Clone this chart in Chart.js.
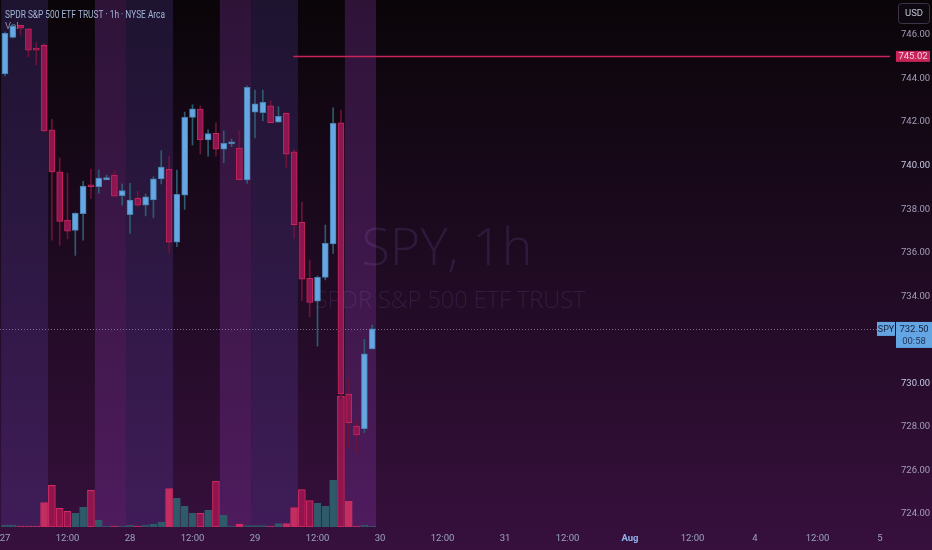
<!DOCTYPE html>
<html><head><meta charset="utf-8">
<script src="https://cdn.jsdelivr.net/npm/chart.js@4.4.1/dist/chart.umd.min.js"></script>
<style>html,body{margin:0;padding:0;background:#1a0a1e;overflow:hidden}canvas{display:block}</style>
</head><body>
<canvas id="c" width="932" height="550"></canvas>
<script>
// ---- categories: hourly candles (extended session 04:00-19:00) ----
const candleTimes = [
 '27 04:00','27 05:00','27 06:00','27 07:00','27 08:00','27 09:00','27 10:00','27 11:00',
 '27 12:00','27 13:00','27 14:00','27 15:00','27 16:00','27 17:00','27 18:00','27 19:00',
 '28 04:00','28 05:00','28 06:00','28 07:00','28 08:00','28 09:00','28 10:00','28 11:00',
 '28 12:00','28 13:00','28 14:00','28 15:00','28 16:00','28 17:00','28 18:00','28 19:00',
 '29 04:00','29 05:00','29 06:00','29 07:00','29 08:00','29 09:00','29 10:00','29 11:00',
 '29 12:00','29 13:00','29 14:00','29 15:00','29 16:00','29 17:00','29 18:00','29 19:00'
];
// ---- series ----
const openP  = [744.21,745.89,746.45,746.28,745.40,745.53,741.64,739.72,737.50,737.03,737.79,739.08,739.03,739.35,739.57,738.62,
                737.75,738.50,738.18,738.43,739.39,739.83,736.48,738.64,742.22,742.60,741.18,741.48,740.76,741.00,740.81,739.35,
                742.46,742.43,742.75,742.00,742.40,740.64,737.40,734.82,733.77,734.87,736.40,741.97,729.51,728.04,727.92,731.58];
const highP  = [746.14,746.50,746.46,746.28,745.65,745.62,742.13,740.36,739.65,737.84,739.28,739.84,739.80,739.57,739.75,739.16,
                739.19,738.83,738.70,739.49,740.69,740.44,739.80,742.46,742.80,742.74,741.64,741.97,741.60,741.22,741.60,743.66,
                743.47,743.47,742.98,742.71,742.43,740.75,738.33,735.66,734.93,737.27,742.66,742.55,730.23,728.31,732.02,732.67];
const lowP   = [744.12,745.86,746.00,745.00,744.62,741.55,736.58,736.34,736.64,735.88,736.58,738.50,738.73,739.35,738.60,738.19,
                736.89,738.11,737.69,737.61,739.16,736.00,736.28,737.99,740.95,740.53,740.44,740.44,740.13,740.87,739.35,739.19,
                741.27,742.06,741.97,742.00,739.92,736.66,733.80,733.06,731.71,734.75,735.97,729.30,727.01,726.78,727.73,731.58];
const closeP = [746.08,746.41,746.32,745.31,745.31,741.60,739.71,737.44,736.99,737.81,739.06,739.03,739.43,739.45,738.60,738.85,
                738.42,738.18,738.57,739.40,739.94,736.48,738.68,742.22,742.61,741.18,741.47,740.76,741.03,741.02,739.35,743.60,
                742.84,742.91,741.97,742.27,740.53,737.29,734.78,733.72,734.87,736.43,741.94,729.51,728.19,727.63,731.35,732.50];
const volumeM = [0.2,0.2,0.1,0.1,0.1,2.44,4.17,1.87,1.57,1.37,1.97,3.67,0.67,0.1,0.1,0.1,
                 0.17,0.1,0.2,0.3,0.47,3.83,2.87,2.07,1.37,1.37,1.67,4.6,1.17,0.1,0.3,0.15,
                 0.15,0.15,0.1,0.33,0.33,1.93,3.73,2.63,2.37,2.07,4.67,13.1,2.57,0.1,0.2,0.1];
// ---- axes ----
const priceTicks = [724,726,728,730,732,734,736,738,740,742,744,746];
const xTickIndex = [0,8,16,24,32,40,48,56,64,72,80,88,96,104,112];
const xTickLabels = ['27','12:00','28','12:00','29','12:00','30','12:00','31','12:00','Aug','12:00','4','12:00','5'];
const priceRange = [723.40, 747.61];
const indexRange = [-0.64, 113.28];
const volumeRange = [0, 52.7];
// ---- annotations ----
const resistanceLevel = 745.02;
const resistanceFromIndex = 36.9;
const lastPrice = 732.50;
const countdown = '00:58';
const titleText = 'SPDR S&P 500 ETF TRUST · 1h · NYSE Arca';
const wmMain = 'SPY, 1h';
const wmSub = 'SPDR S&P 500 ETF TRUST';

const sessionOf = t => { const h = parseInt(t.split(' ')[1], 10); return h < 10 ? 'pre' : (h >= 16 ? 'post' : 'reg'); };
const sessions = candleTimes.map(sessionOf);
const bands = [];
sessions.forEach((s, i) => {
  if (s === 'reg') return;
  const last = bands[bands.length - 1];
  if (last && last.kind === s && last.end === i - 1) last.end = i; else bands.push({kind: s, start: i, end: i});
});
const isUp = openP.map((o, i) => closeP[i] >= o);

const UP_FILL = '#64a7e2', UP_BORDER = '#4a80ad', DN_FILL = '#8e1650', DN_BORDER = '#c9245c';
const UP_WICK = '#2e5b6e', DN_WICK = '#6b1339';

const FONT = 'Roboto, "Noto Sans", sans-serif';

function rrect(ctx, x, y, w, h, r) {
  ctx.beginPath();
  ctx.moveTo(x + r, y); ctx.lineTo(x + w - r, y); ctx.quadraticCurveTo(x + w, y, x + w, y + r);
  ctx.lineTo(x + w, y + h - r); ctx.quadraticCurveTo(x + w, y + h, x + w - r, y + h);
  ctx.lineTo(x + r, y + h); ctx.quadraticCurveTo(x, y + h, x, y + h - r);
  ctx.lineTo(x, y + r); ctx.quadraticCurveTo(x, y, x + r, y); ctx.closePath();
}

const decor = {
  id: 'decor',
  beforeDraw(chart) {
    const {ctx, chartArea: a} = chart; const x = chart.scales.x;
    ctx.save();
    const g = ctx.createLinearGradient(0, 0, 0, chart.height);
    g.addColorStop(0, '#0a0509'); g.addColorStop(0.45, '#1d0a20'); g.addColorStop(1, '#37103d');
    ctx.fillStyle = g; ctx.fillRect(0, 0, chart.width, chart.height);
    bands.forEach(b => {
      const x0 = Math.max(a.left, x.getPixelForValue(b.start - 0.5));
      const x1 = x.getPixelForValue(b.end + 0.5);
      ctx.fillStyle = b.kind === 'pre' ? 'rgba(110,80,204,0.2)' : 'rgba(154,65,197,0.25)';
      ctx.fillRect(x0, a.top, x1 - x0, a.bottom - a.top);
    });
    ctx.restore();
  },
  beforeDatasetsDraw(chart) {
    const {ctx, chartArea: a} = chart; const y = chart.scales.y;
    ctx.save();
    // watermark
    const cx = (a.left + a.right) / 2 + 2;
    ctx.fillStyle = 'rgba(170,150,255,0.12)';
    ctx.textAlign = 'center'; ctx.textBaseline = 'alphabetic';
    ctx.font = '300 100px "Open Sans", sans-serif';
    let s1 = 100 * 171 / ctx.measureText(wmMain).width;
    ctx.font = '300 ' + s1.toFixed(1) + 'px "Open Sans", sans-serif';
    ctx.fillText(wmMain, cx, 265);
    ctx.font = '300 100px "Open Sans", sans-serif';
    let s2 = 100 * 270 / ctx.measureText(wmSub).width;
    ctx.font = '300 ' + s2.toFixed(1) + 'px "Open Sans", sans-serif';
    ctx.fillText(wmSub, cx + 3, 308);
    // last price dotted line
    const py = Math.round(y.getPixelForValue(lastPrice)) + 0.5;
    ctx.strokeStyle = 'rgba(150,150,180,0.7)'; ctx.lineWidth = 1; ctx.setLineDash([1, 2]);
    ctx.beginPath(); ctx.moveTo(a.left, py); ctx.lineTo(a.right, py); ctx.stroke();
    ctx.setLineDash([]);
    // Vol label
    ctx.font = '9.5px ' + FONT; ctx.textAlign = 'left'; ctx.textBaseline = 'middle';
    ctx.fillStyle = '#8f8aa8'; ctx.fillText('Vol', 5, 27);
    ctx.restore();
  },
  afterDraw(chart) {
    const {ctx, chartArea: a} = chart; const y = chart.scales.y;
    ctx.save();
    // header
    ctx.font = '10px ' + FONT; ctx.textAlign = 'left'; ctx.textBaseline = 'alphabetic';
    const tw = ctx.measureText(titleText).width;
    ctx.translate(5, 17.5); ctx.scale(160 / tw, 1);
    ctx.fillStyle = '#a3b5d8'; ctx.fillText(titleText, 0, 0);
    ctx.setTransform(1, 0, 0, 1, 0, 0);
    // resistance label
    const ry = y.getPixelForValue(resistanceLevel);
    ctx.fillStyle = '#c8245a'; ctx.fillRect(896, ry - 5.5, 34, 11);
    ctx.fillStyle = '#f3d2de'; ctx.font = '9.5px ' + FONT; ctx.textAlign = 'center'; ctx.textBaseline = 'middle';
    ctx.fillText(resistanceLevel.toFixed(2), 913, ry + 0.5);
    // last price labels
    const py = y.getPixelForValue(lastPrice);
    ctx.fillStyle = '#64a5e4';
    ctx.fillRect(877, py - 7, 18, 14);
    ctx.fillRect(896, py - 7, 36, 26);
    ctx.fillStyle = '#16223a'; ctx.font = '9px ' + FONT;
    ctx.fillText('SPY', 886, py + 0.5);
    ctx.font = '9.5px ' + FONT;
    ctx.fillText(lastPrice.toFixed(2), 914, py + 0.5);
    ctx.fillStyle = '#24365a';
    ctx.fillText(countdown, 914, py + 12.5);
    // USD button
    rrect(ctx, 898.5, 3.5, 31, 20, 3);
    ctx.fillStyle = '#0d0710'; ctx.fill();
    ctx.strokeStyle = '#3c3446'; ctx.lineWidth = 1; ctx.stroke();
    ctx.fillStyle = '#c6c6d6'; ctx.font = '9.5px ' + FONT;
    ctx.fillText('USD', 914, 14);
    ctx.restore();
  }
};

const volColors = volumeM.map((v, i) => isUp[i] ? '#2e5a6a' : (sessions[i] === 'reg' ? 'rgba(150,22,80,0.95)' : '#c42d5f'));
const volBorders = volumeM.map((v, i) => isUp[i] ? '#2e5a6a' : '#d02b62');

new Chart(document.getElementById('c').getContext('2d'), {
  type: 'bar',
  data: {
    datasets: [
      { label: 'Volume', yAxisID: 'yVol', data: volumeM.map((v, i) => ({x: i, y: v})),
        backgroundColor: volColors, borderColor: volBorders, borderWidth: 1, borderSkipped: false,
        barThickness: 7, grouped: false, order: 3 },
      { label: 'Wicks', yAxisID: 'y', data: lowP.map((l, i) => ({x: i, y: [l, highP[i]]})),
        backgroundColor: isUp.map(u => u ? UP_WICK : DN_WICK), borderWidth: 0,
        barThickness: 1, grouped: false, order: 2, minBarLength: 1 },
      { label: 'Bodies', yAxisID: 'y', data: openP.map((o, i) => ({x: i, y: [o, closeP[i]]})),
        backgroundColor: isUp.map(u => u ? UP_FILL : DN_FILL), borderColor: isUp.map(u => u ? UP_BORDER : DN_BORDER),
        borderWidth: 1, borderSkipped: false, barThickness: 6, grouped: false, order: 1, minBarLength: 2 },
      { type: 'line', label: 'Level', yAxisID: 'y',
        data: [{x: resistanceFromIndex, y: resistanceLevel}, {x: indexRange[1], y: resistanceLevel}],
        borderColor: '#c8245a', borderWidth: 1.5, pointRadius: 0, order: 0 }
    ]
  },
  options: {
    responsive: false, animation: false, devicePixelRatio: 1,
    layout: { padding: 0 },
    plugins: { legend: { display: false }, tooltip: { enabled: false } },
    scales: {
      x: {
        type: 'linear', min: indexRange[0], max: indexRange[1], offset: false,
        grid: { display: false, drawTicks: false }, border: { display: false },
        afterBuildTicks: s => { s.ticks = xTickIndex.map(v => ({value: v})); },
        afterFit: s => { s.height = 23; s.paddingLeft = 0; s.paddingRight = 0; },
        ticks: {
          autoSkip: false, maxRotation: 0, padding: 6,
          callback: v => { const k = xTickIndex.indexOf(v); return k >= 0 ? xTickLabels[k] : ''; },
          color: c => (c.tick && xTickLabels[xTickIndex.indexOf(c.tick.value)] === 'Aug') ? '#8fb4ec' : '#9aa3c2',
          font: c => ({ family: FONT, size: 9.5, weight: (c.tick && xTickLabels[xTickIndex.indexOf(c.tick.value)] === 'Aug') ? 'bold' : 'normal' })
        }
      },
      y: {
        position: 'right', min: priceRange[0], max: priceRange[1],
        grid: { display: false, drawTicks: false }, border: { display: false },
        afterBuildTicks: s => { s.ticks = priceTicks.map(v => ({value: v})); },
        afterFit: s => { s.width = 42; s.paddingTop = 0; s.paddingBottom = 0; },
        ticks: {
          padding: 11,
          callback: v => Number(v).toFixed(2),
          color: c => (c.tick && c.tick.value % 10 === 0) ? '#c3c9e4' : '#a39fb8',
          font: { family: FONT, size: 9.5 }
        }
      },
      yVol: { display: false, min: volumeRange[0], max: volumeRange[1] }
    }
  },
  plugins: [decor]
});
</script>
</body></html>
